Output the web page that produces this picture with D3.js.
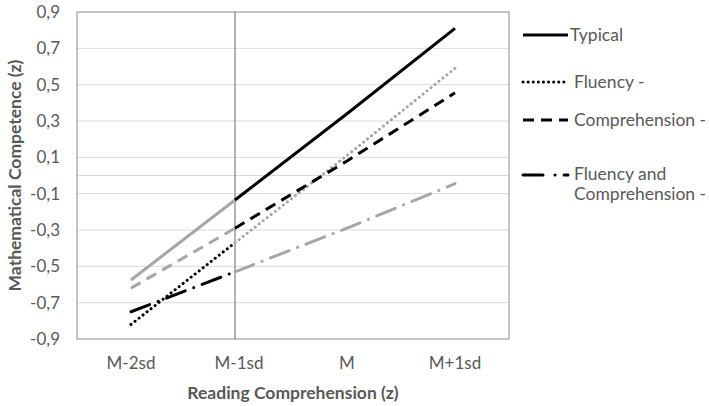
<!DOCTYPE html>
<html>
<head>
<meta charset="utf-8">
<script src="https://cdn.jsdelivr.net/npm/d3@7.9.0/dist/d3.min.js"></script>
<style>
  body { margin: 0; background: #fff; }
  svg text { font-family: Lato, "Open Sans", sans-serif; fill: #595959; }
</style>
</head>
<body>
<svg id="chart" width="709" height="406"></svg>
<script>
const categories = ['M-2sd', 'M-1sd', 'M', 'M+1sd'];
const yTicks = [-0.9, -0.7, -0.5, -0.3, -0.1, 0.1, 0.3, 0.5, 0.7, 0.9];

const typical = [-0.575, -0.135, 0.34, 0.81];
const fluency = [-0.82, -0.37, 0.11, 0.59];
const comprehension = [-0.62, -0.29, 0.08, 0.455];
const fluencyAndComprehension = [-0.75, -0.53, -0.29, -0.045];

const seriesNames = ['Typical', 'Fluency -', 'Comprehension -', 'Fluency and Comprehension -'];

const black = '#000';
const grey = '#a6a6a6';

// each series: left part (M-2sd..M-1sd) and right part (M-1sd..M+1sd) have different colours
const series = [
    { name: seriesNames[0], values: typical, dash: null, left: grey, right: black, cap: 'butt' },
    { name: seriesNames[1], values: fluency, dash: '0.1 5', left: black, right: grey, cap: 'round' },
    { name: seriesNames[2], values: comprehension, dash: '11 7', left: grey, right: black, cap: 'butt' },
    { name: seriesNames[3], values: fluencyAndComprehension, dash: '20 9 0.1 9', left: black, right: grey, cap: 'round' },
];

const margin = { top: 12, right: 200, bottom: 67, left: 77 };
const width = 509 - margin.left;
const height = 339 - margin.top;

const svg = d3.select('#chart');
const g = svg.append('g').attr('transform', `translate(${margin.left},${margin.top})`);

const x = d3.scalePoint().domain(categories).range([0, width]).padding(0.5);
const y = d3.scaleLinear().domain([-0.9, 0.9]).range([height, 0]);

// gridlines
g.selectAll('.grid')
    .data(yTicks.slice(1, -1).concat([0]))
    .join('line')
    .attr('x1', 0)
    .attr('x2', width)
    .attr('y1', d => y(d))
    .attr('y2', d => y(d))
    .attr('stroke', '#d9d9d9')
    .attr('stroke-width', 1);

// frame
g.append('rect')
    .attr('width', width)
    .attr('height', height)
    .attr('fill', 'none')
    .attr('stroke', '#8c8c8c')
    .attr('stroke-width', 1);

// vertical line at M-1sd
g.append('line')
    .attr('x1', x('M-1sd') - 4)
    .attr('x2', x('M-1sd') - 4)
    .attr('y1', 0)
    .attr('y2', height)
    .attr('stroke', '#7f7f7f')
    .attr('stroke-width', 1.2);

// y axis labels
const fmt = d => d3.format('.1f')(d).replace('.', ',').replace('−', '-');
g.selectAll('.ytick')
    .data(yTicks)
    .join('text')
    .attr('x', -17)
    .attr('y', d => y(d))
    .attr('dy', '0.35em')
    .attr('text-anchor', 'end')
    .attr('font-size', 17)
    .text(fmt);

// x axis labels
g.selectAll('.xtick')
    .data(categories)
    .join('text')
    .attr('x', d => x(d))
    .attr('y', height + 24)
    .attr('dy', '0.35em')
    .attr('text-anchor', 'middle')
    .attr('font-size', 17)
    .text(d => d);

// axis titles
g.append('text')
    .attr('x', width / 2)
    .attr('y', height + 54)
    .attr('dy', '0.35em')
    .attr('text-anchor', 'middle')
    .attr('font-size', 17.5)
    .attr('font-weight', 'bold')
    .text('Reading Comprehension (z)');

g.append('text')
    .attr('transform', `translate(${-62},${height / 2}) rotate(-90)`)
    .attr('dy', '0.35em')
    .attr('text-anchor', 'middle')
    .attr('font-size', 17.5)
    .attr('font-weight', 'bold')
    .text('Mathematical Competence (z)');

// lines
const line = d3.line()
    .x(d => x(d.cat) - (d.cat === 'M-1sd' ? 4 : 0))
    .y(d => y(d.v));

series.forEach(s => {
    const pts = s.values.map((v, i) => ({ cat: categories[i], v }));
    const parts = [
        { pts: pts.slice(0, 2), color: s.left },
        { pts: pts.slice(1), color: s.right },
    ];
    parts.forEach(p => {
        g.append('path')
            .datum(p.pts)
            .attr('d', line)
            .attr('fill', 'none')
            .attr('stroke', p.color)
            .attr('stroke-width', 3)
            .attr('stroke-linecap', s.cap)
            .attr('stroke-dasharray', s.dash);
    });
});

// legend
const legend = svg.append('g').attr('transform', 'translate(523,35)');
const legendY = [0, 47, 85, 140];
series.forEach((s, i) => {
    const lg = legend.append('g').attr('transform', `translate(0,${legendY[i]})`);
    lg.append('line')
        .attr('x1', 0)
        .attr('x2', 45)
        .attr('stroke', black)
        .attr('stroke-width', 3)
        .attr('stroke-linecap', s.cap)
        .attr('stroke-dasharray', s.dash === '20 9 0.1 9' ? '20 12 0.1 9' : s.dash);
    const words = s.name === 'Fluency and Comprehension -'
        ? ['Fluency and', 'Comprehension -'] : [s.name];
    const tx = s.name === 'Typical' ? 47 : 51;
    words.forEach((w, j) => {
        lg.append('text')
            .attr('x', tx)
            .attr('y', j * 20 - (words.length > 1 ? 1 : 0))
            .attr('dy', '0.35em')
            .attr('font-size', 17.5)
            .text(w);
    });
});
</script>
</body>
</html>
